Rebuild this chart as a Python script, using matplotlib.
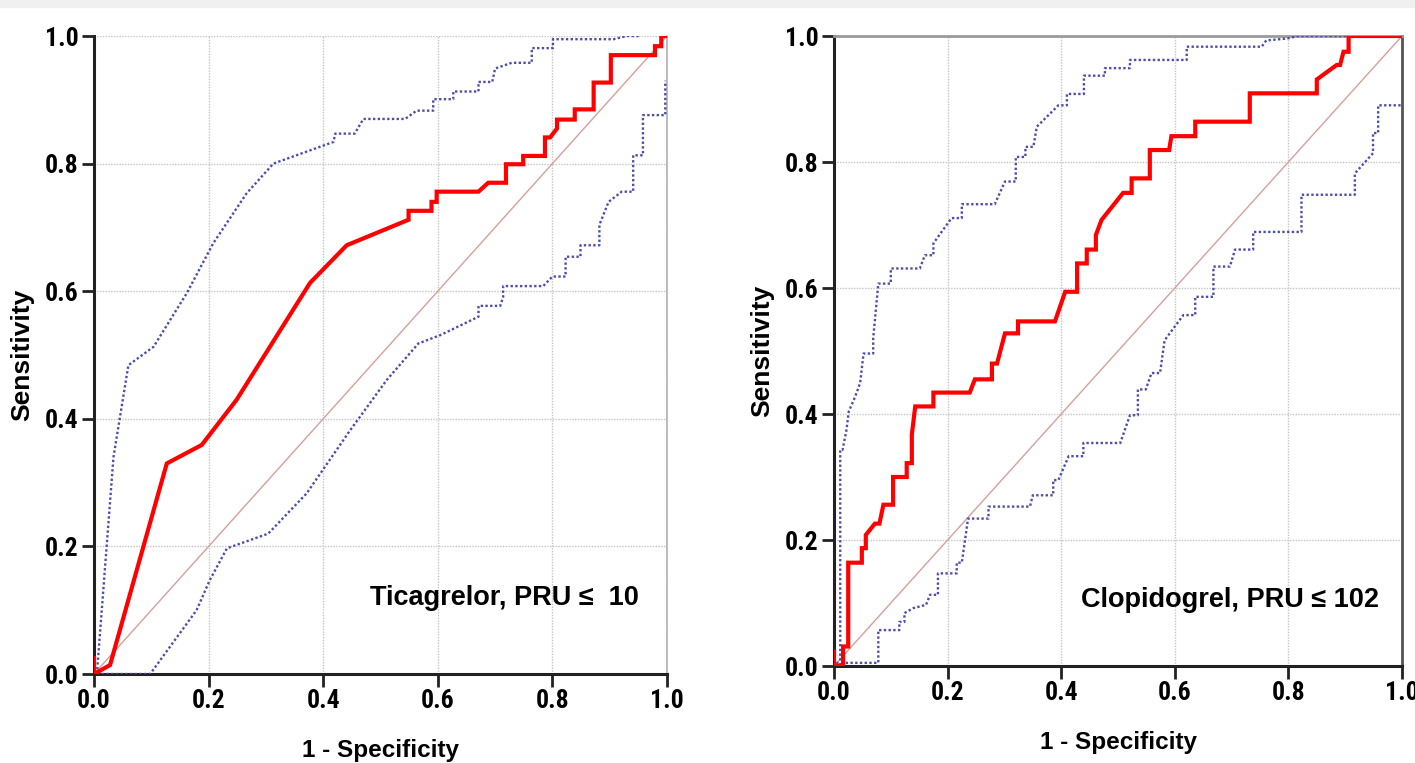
#!/usr/bin/env python3
"""
ROC curves: Ticagrelor vs Clopidogrel (PRU cut-offs), with 95% CI bands.
"""
import matplotlib
matplotlib.use("Agg")
import matplotlib.pyplot as plt
from matplotlib import font_manager as fm
from matplotlib.patches import Rectangle

# ------------------------------------------------------------------
# 1  data  (1 - specificity, sensitivity)
# ------------------------------------------------------------------
tica_fpr = [0.0, 0.0, 0.0, 0.028, 0.127, 0.188, 0.249, 0.377, 0.441, 0.549, 0.549,
            0.589, 0.589, 0.598, 0.598, 0.671, 0.688, 0.719, 0.719, 0.749, 0.749,
            0.787, 0.787, 0.796, 0.808, 0.808, 0.839, 0.839, 0.872, 0.872, 0.902,
            0.902, 0.979, 0.979, 0.990, 0.990, 1.0]
tica_tpr = [0.025, 0.0, 0.0, 0.014, 0.330, 0.359, 0.430, 0.613, 0.672, 0.712, 0.726,
            0.726, 0.740, 0.740, 0.756, 0.756, 0.770, 0.770, 0.799, 0.799, 0.812,
            0.812, 0.841, 0.841, 0.855, 0.869, 0.869, 0.885, 0.885, 0.927, 0.927,
            0.970, 0.970, 0.984, 0.984, 1.0, 1.0]

tica_up_fpr = [0.005, 0.034, 0.060, 0.104, 0.162, 0.208, 0.266, 0.313, 0.418, 0.421,
               0.455, 0.470, 0.543, 0.563, 0.592, 0.592, 0.627, 0.627, 0.671, 0.671,
               0.695, 0.700, 0.729, 0.764, 0.764, 0.801, 0.801, 0.907, 0.930, 0.953]
tica_up_tpr = [0.0, 0.340, 0.484, 0.513, 0.597, 0.675, 0.753, 0.800, 0.834, 0.847,
               0.847, 0.870, 0.870, 0.883, 0.883, 0.901, 0.901, 0.913, 0.913, 0.928,
               0.928, 0.949, 0.958, 0.958, 0.981, 0.981, 0.995, 0.995, 1.0, 1.0]

tica_lo_fpr = [0.005, 0.098, 0.179, 0.202, 0.232, 0.304, 0.371, 0.447, 0.511, 0.566,
               0.604, 0.671, 0.671, 0.709, 0.714, 0.714, 0.784, 0.800, 0.823, 0.823,
               0.849, 0.849, 0.882, 0.882, 0.898, 0.921, 0.941, 0.941, 0.958, 0.958,
               0.997, 0.997]
tica_lo_tpr = [0.0, 0.0, 0.100, 0.147, 0.197, 0.220, 0.283, 0.382, 0.461, 0.518,
               0.531, 0.560, 0.577, 0.577, 0.591, 0.608, 0.608, 0.623, 0.623, 0.654,
               0.654, 0.672, 0.672, 0.704, 0.740, 0.756, 0.756, 0.813, 0.813, 0.876,
               0.876, 0.930]

clop_fpr = [0.0, 0.0, 0.0, 0.016, 0.016, 0.025, 0.025, 0.049, 0.049, 0.056, 0.056,
            0.072, 0.080, 0.087, 0.104, 0.104, 0.128, 0.128, 0.137, 0.137, 0.143,
            0.175, 0.175, 0.239, 0.248, 0.278, 0.278, 0.287, 0.301, 0.324, 0.324,
            0.389, 0.407, 0.428, 0.428, 0.445, 0.445, 0.461, 0.461, 0.471, 0.509,
            0.524, 0.524, 0.556, 0.556, 0.590, 0.594, 0.636, 0.636, 0.732, 0.732,
            0.850, 0.850, 0.885, 0.891, 0.897, 0.906, 0.906, 1.0]
clop_tpr = [0.023, 0.0, 0.0, 0.0, 0.031, 0.031, 0.164, 0.164, 0.187, 0.187, 0.208,
            0.226, 0.226, 0.256, 0.256, 0.300, 0.300, 0.322, 0.322, 0.367, 0.412,
            0.412, 0.434, 0.434, 0.455, 0.455, 0.480, 0.480, 0.528, 0.528, 0.547,
            0.547, 0.594, 0.594, 0.639, 0.639, 0.661, 0.661, 0.684, 0.708, 0.751,
            0.751, 0.774, 0.774, 0.819, 0.819, 0.841, 0.841, 0.864, 0.864, 0.909,
            0.909, 0.931, 0.954, 0.954, 0.975, 0.975, 1.0, 1.0]

clop_up_fpr = [0.004, 0.011, 0.011, 0.015, 0.022, 0.026, 0.037, 0.046, 0.052, 0.069,
               0.069, 0.078, 0.100, 0.100, 0.151, 0.160, 0.175, 0.175, 0.207, 0.225,
               0.225, 0.283, 0.301, 0.320, 0.320, 0.337, 0.337, 0.351, 0.357, 0.395,
               0.410, 0.410, 0.440, 0.440, 0.477, 0.477, 0.521, 0.521, 0.621, 0.621,
               0.753, 0.761, 0.798, 0.817, 1.0]
clop_up_tpr = [0.0, 0.0, 0.343, 0.343, 0.375, 0.404, 0.427, 0.449, 0.496, 0.496,
               0.520, 0.607, 0.607, 0.631, 0.631, 0.652, 0.652, 0.671, 0.711, 0.711,
               0.733, 0.733, 0.769, 0.769, 0.808, 0.808, 0.824, 0.824, 0.856, 0.890,
               0.890, 0.908, 0.908, 0.937, 0.937, 0.949, 0.949, 0.962, 0.962, 0.983,
               0.983, 0.993, 0.996, 1.0, 1.0]

clop_lo_fpr = [0.004, 0.078, 0.078, 0.115, 0.115, 0.124, 0.124, 0.140, 0.162, 0.169,
               0.183, 0.183, 0.216, 0.216, 0.225, 0.236, 0.272, 0.272, 0.345, 0.350,
               0.386, 0.386, 0.395, 0.413, 0.439, 0.439, 0.504, 0.521, 0.535, 0.535,
               0.549, 0.559, 0.574, 0.582, 0.615, 0.636, 0.636, 0.668, 0.668, 0.697,
               0.706, 0.738, 0.738, 0.823, 0.823, 0.917, 0.917, 0.949, 0.949, 0.958,
               0.958, 1.0]
clop_lo_tpr = [0.005, 0.005, 0.057, 0.057, 0.070, 0.070, 0.084, 0.092, 0.097, 0.113,
               0.113, 0.147, 0.147, 0.164, 0.164, 0.234, 0.234, 0.253, 0.253, 0.271,
               0.271, 0.295, 0.295, 0.333, 0.333, 0.354, 0.354, 0.398, 0.398, 0.439,
               0.439, 0.465, 0.465, 0.517, 0.557, 0.557, 0.586, 0.586, 0.634, 0.634,
               0.661, 0.661, 0.689, 0.689, 0.748, 0.748, 0.782, 0.814, 0.846, 0.846,
               0.890, 0.890]

panels = [
    dict(fpr=tica_fpr, tpr=tica_tpr, up=(tica_up_fpr, tica_up_tpr),
         lo=(tica_lo_fpr, tica_lo_tpr), label="Ticagrelor, PRU \u2264  10",
         txt_xy=(0.717, 0.119), rect=[94, 89, 573, 638], framed=False),
    dict(fpr=clop_fpr, tpr=clop_tpr, up=(clop_up_fpr, clop_up_tpr),
         lo=(clop_lo_fpr, clop_lo_tpr), label="Clopidogrel, PRU \u2264 102",
         txt_xy=(0.697, 0.105), rect=[834, 97, 568, 630], framed=True),
]

ticks = [0.0, 0.2, 0.4, 0.6, 0.8, 1.0]
tick_labels = ["0.0", "0.2", "0.4", "0.6", "0.8", "1.0"]

# ------------------------------------------------------------------
# 2  pick a narrow bold face for the tick numbers, if one is around
# ------------------------------------------------------------------
TICK_SIZE = 18.5
names = {f.name for f in fm.fontManager.ttflist}
tick_font = None
for cand in ["Liberation Sans Narrow", "Arial Narrow", "Noto Sans Condensed",
             "Roboto Condensed", "Open Sans Condensed"]:
    if cand in names:
        tick_font = dict(family=[cand, "DejaVu Sans"], weight="bold", size=TICK_SIZE)
        break
if tick_font is None:
    cond = [f for f in fm.fontManager.ttflist
            if f.stretch == "condensed" and f.weight in (700, "bold")]
    fam = cond[0].name if cond else "DejaVu Sans"
    tick_font = dict(family=[fam, "DejaVu Sans"], weight="bold", size=TICK_SIZE,
                     stretch="condensed")

# ------------------------------------------------------------------
# 3  figure
# ------------------------------------------------------------------
W, H = 1415, 763
fig = plt.figure(figsize=(W / 100, H / 100), dpi=100)
fig.patches.append(Rectangle((0, 1 - 7 / H), 1, 7 / H, transform=fig.transFigure,
                             color="#f0f0f0", zorder=0))

sans = ["Liberation Sans", "DejaVu Sans"]

for p in panels:
    l, b, w, h = p["rect"]
    ax = fig.add_axes([l / W, b / H, w / W, h / H])

    ax.plot([0, 1], [0, 1], color="#d4a09a", lw=1.0, zorder=2)
    ax.plot(*p["up"], color="#4d4dab", lw=1.7, ls=(0, (1, 1)), zorder=3)
    ax.plot(*p["lo"], color="#4d4dab", lw=1.7, ls=(0, (1, 1)), zorder=3)
    ax.plot(p["fpr"], p["tpr"], color="#ff0000", lw=3.0, zorder=4,
            solid_joinstyle="miter")

    ax.set_xlim(0, 1)
    ax.set_ylim(0, 1)
    ax.set_xticks(ticks)
    ax.set_yticks(ticks)
    ax.set_xticklabels(tick_labels, fontdict=tick_font)
    ax.set_yticklabels(tick_labels, fontdict=tick_font)
    ax.tick_params(direction="out", length=9, width=2, color="#222222", pad=2)
    ax.grid(True, color="#c4c4c4", lw=1.0, ls=(0, (1, 1)), zorder=1)
    ax.set_axisbelow(True)

    for s in ("left", "bottom"):
        ax.spines[s].set_linewidth(2.2)
        ax.spines[s].set_color("#222222")
    if p["framed"]:
        ax.spines["top"].set_color("#9a9a9a")
        ax.spines["top"].set_linewidth(2)
        ax.spines["right"].set_color("#555555")
        ax.spines["right"].set_linewidth(2)
    else:
        ax.spines["top"].set_visible(False)
        ax.spines["right"].set_color("#b0b0b0")
        ax.spines["right"].set_linewidth(1.2)

    ax.set_ylabel("Sensitivity", family=sans, weight="bold", size=19, labelpad=8)
    ax.set_xlabel("1 - Specificity", family=sans, weight="bold", size=17.5,
                  labelpad=18.5)

    ax.text(*p["txt_xy"], p["label"], ha="center", va="center",
            family=sans, weight="bold", size=19.5, zorder=5)

fig.savefig("out.png", dpi=100)
plt.close(fig)
